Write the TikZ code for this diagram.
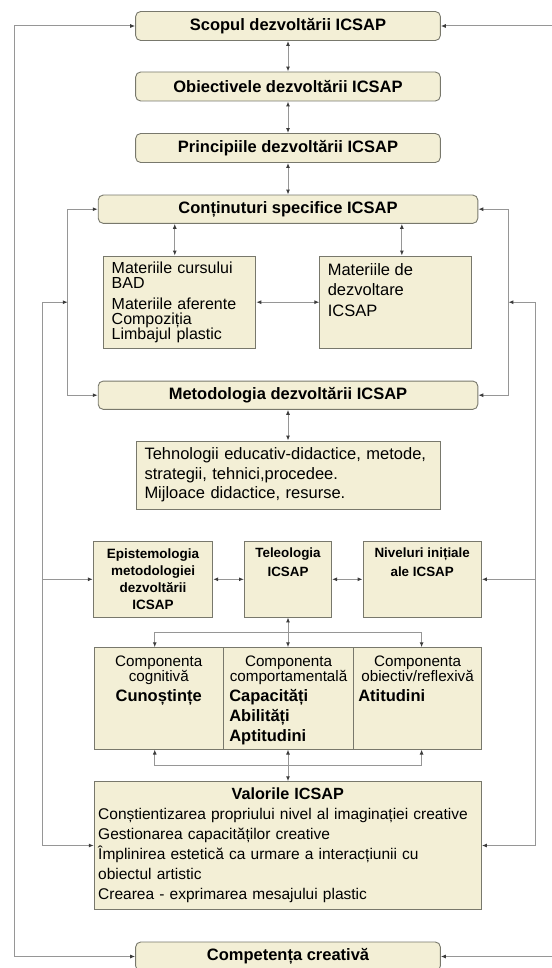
\documentclass[tikz,border=0pt]{standalone}
\usepackage{fontspec}
\setmainfont{Liberation Sans}
\usetikzlibrary{
    positioning,
    arrows.meta,
    calc
}
\definecolor{boxFill}{RGB}{243, 239, 214}
\definecolor{edgeGray}{RGB}{120, 120, 108}
\definecolor{linkGray}{RGB}{150, 150, 150}
\definecolor{tipGray}{RGB}{60, 60, 60}

% box with the text kept at the top: width, height, top gap, text
\newcommand{\topcell}[4]{\parbox[c][#2][t]{#1}{\vspace*{#3}#4}}

\begin{document}
\begin{tikzpicture}[x=1pt, y=-1pt, >={Latex[length=5pt,width=4pt,color=tipGray]},
    link/.style={draw=linkGray, line width=1pt},
    headbox/.style={draw=edgeGray, fill=boxFill, rounded corners=5pt, line width=0.9pt,
        minimum height=29pt, font=\bfseries\fontsize{16.5}{20}\selectfont},
    plainbox/.style={draw=edgeGray, fill=boxFill, line width=0.9pt,
        font=\fontsize{16.5}{20}\selectfont}]
    \useasboundingbox (0,0) rectangle (551,968);

    % side rails
    \coordinate (farL) at (14,0);
    \coordinate (midL) at (42.2,0);
    \coordinate (inL) at (67.8,0);
    \coordinate (inR) at (508.4,0);
    \coordinate (midR) at (535.8,0);
    \coordinate (farR) at (565,0);
    \coordinate (upfork) at (288,632);
    \coordinate (lowfork) at (288,765);

    % main column
    \node[headbox, minimum width=304.7pt] (scop) at (288,26) {Scopul dezvoltării ICSAP};
    \node[headbox, minimum width=304.7pt] (obj) at (288,86.5) {Obiectivele dezvoltării ICSAP};
    \node[headbox, minimum width=304.7pt] (princ) at (288,148) {Principiile dezvoltării ICSAP};
    \node[headbox, minimum width=379.6pt, minimum height=28.3pt] (cont) at (288,209.2) {Conținuturi specifice ICSAP};

    \node[plainbox, minimum width=152.1pt, minimum height=92.3pt, text width=136.1pt, inner xsep=8pt,
        align=left, font=\fontsize{16}{15}\selectfont] (mat1) at (179.75,302.2)
        {Materiile cursului\\BAD\\[6.5pt]Materiile aferente\\Compoziția\\Limbajul plastic};
    \node[plainbox, inner xsep=8pt, inner ysep=0pt] (mat2) at (395.85,302.2)
        {\topcell{136.1pt}{92.3pt}{7pt}{\raggedright\fontsize{16.5}{20.5}\selectfont Materiile de\\dezvoltare\\ICSAP}};

    \node[headbox, minimum width=379.6pt, minimum height=28.3pt] (metod) at (288,395.2) {Metodologia dezvoltării ICSAP};
    \node[plainbox, minimum width=304pt, minimum height=68.3pt, text width=287pt, inner xsep=8.5pt,
        align=left, font=\fontsize{16.5}{19.5}\selectfont] (tehn) at (288,475.2)
        {Tehnologii educativ-didactice, metode,\\strategii, tehnici,procedee.\\Mijloace didactice, resurse.};

    \node[plainbox, minimum width=119.4pt, minimum height=75.3pt, text width=109.4pt, inner xsep=5pt,
        align=center, font=\bfseries\fontsize{13.5}{17}\selectfont] (epis) at (153,579.3)
        {Epistemologia\\metodologiei\\dezvoltării\\ICSAP};
    \node[plainbox, inner xsep=4pt, inner ysep=0pt, font=\bfseries\fontsize{13.4}{19}\selectfont] (tele) at (288,579.3)
        {\topcell{79.1pt}{75.3pt}{6.5pt}{\centering Teleologia\\ICSAP}};
    \node[plainbox, inner xsep=4pt, inner ysep=0pt, font=\bfseries\fontsize{13.4}{19}\selectfont] (niv) at (422.2,579.3)
        {\topcell{110.4pt}{75.3pt}{6.5pt}{\centering Niveluri inițiale\\ale ICSAP}};

    \node[plainbox, inner xsep=4pt, inner ysep=0pt] (comp1) at (158.75,698.4)
        {\topcell{121.1pt}{101.4pt}{7.7pt}{{\centering\fontsize{15.2}{15}\selectfont Componenta\\cognitivă\par}%
        \centering\fontsize{16.5}{20}\selectfont\bfseries Cunoștințe\par}};
    \node[plainbox, inner xsep=6pt, inner ysep=0pt] (comp2) at (288.55,698.4)
        {\topcell{118.5pt}{101.4pt}{7.7pt}{{\centering\fontsize{15.2}{15}\selectfont Componenta\\comportamentală\par}%
        \raggedright\fontsize{16.5}{20}\selectfont\bfseries Capacități\\Abilități\\Aptitudini\par}};
    \node[plainbox, inner xsep=4.5pt, inner ysep=0pt] (comp3) at (417.6,698.4)
        {\topcell{118.6pt}{101.4pt}{7.7pt}{{\centering\fontsize{15.2}{15}\selectfont Componenta\\obiectiv/reflexivă\par}%
        \raggedright\fontsize{16.5}{20}\selectfont\bfseries Atitudini\par}};

    \node[plainbox, minimum width=387.2pt, minimum height=127.6pt, text width=379.2pt, inner xsep=4pt,
        align=left, font=\fontsize{15.5}{20}\selectfont] (val) at (287.8,845.5)
        {{\centering\bfseries\fontsize{16.2}{21}\selectfont Valorile ICSAP\par}%
        Conștientizarea propriului nivel al imaginației creative\\
        Gestionarea capacităților creative\\
        Împlinirea estetică ca urmare a interacțiunii cu\\
        obiectul artistic\\
        Crearea - exprimarea mesajului plastic};

    \node[headbox, minimum width=304.7pt] (compet) at (288,956.5) {Competența creativă};

    % vertical links
    \draw[link, <->] (scop) -- (obj);
    \draw[link, <->] (obj) -- (princ);
    \draw[link, <->] (princ) -- (cont);
    \draw[link, <->] ([xshift=-5pt]mat1.north) -- ([xshift=-5pt]mat1.north |- cont.south);
    \draw[link, <->] ([xshift=6pt]mat2.north) -- ([xshift=6pt]mat2.north |- cont.south);
    \draw[link, <->] (mat1) -- (mat2);
    \draw[link, <->] (metod) -- (tehn);
    \draw[link, <->] (epis) -- (tele);
    \draw[link, <->] (tele) -- (niv);
    \draw[link, <->] (tele.south) -- (tele.south |- comp2.north);
    \draw[link, ->] (tele.south |- upfork) -| ([xshift=-4pt]comp1.north);
    \draw[link, ->] (tele.south |- upfork) -| ([xshift=4pt]comp3.north);
    \draw[link, <->] (tele.south |- comp2.south) -- (tele.south |- val.north);
    \draw[link, ->] (tele.south |- lowfork) -| ([xshift=-4pt]comp1.south);
    \draw[link, ->] (tele.south |- lowfork) -| ([xshift=4pt]comp3.south);

    % loops at the sides
    \draw[link, <->] (scop.west) -| (farL |- compet.west) -- (compet.west);
    \draw[link, <->] (scop.east) -| (farR |- compet.east) -- (compet.east);
    \draw[link, <->] (cont.west) -| (inL |- metod.west) -- (metod.west);
    \draw[link, <->] (cont.east) -| (inR |- metod.east) -- (metod.east);
    \draw[link, <->] (val.west) -| (midL |- mat1.west) -- (inL |- mat1.west);
    \draw[link, <->] (val.east) -| (midR |- mat2.east) -- (inR |- mat2.east);
    \draw[link, ->] (midL |- epis.west) -- (epis.west);
    \draw[link, ->] (midR |- niv.east) -- (niv.east);
\end{tikzpicture}
\end{document}
